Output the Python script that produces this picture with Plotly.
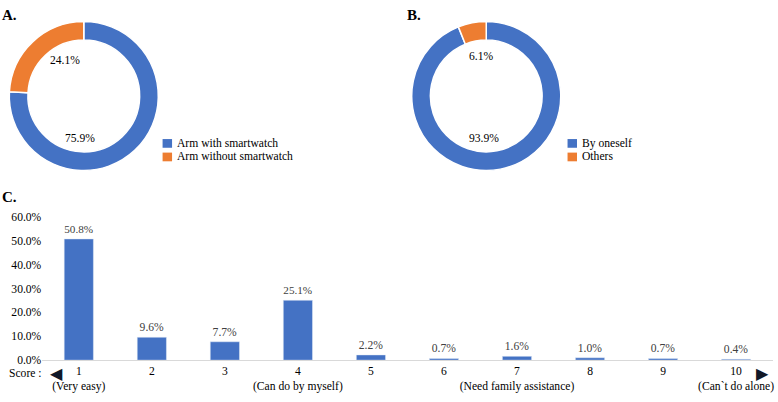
import plotly.graph_objects as go

# ---------------- data ----------------
pie_a_labels = ["Arm with smartwatch", "Arm without smartwatch"]
pie_a_values = [75.9, 24.1]
pie_b_labels = ["By oneself", "Others"]
pie_b_values = [93.9, 6.1]
scores = [1, 2, 3, 4, 5, 6, 7, 8, 9, 10]
score_pct = [50.8, 9.6, 7.7, 25.1, 2.2, 0.7, 1.6, 1.0, 0.7, 0.4]
score_desc = ["(Very easy)", "", "", "(Can do by myself)", "", "", "(Need family assistance)", "", "", "(Can`t do alone)"]
y_ticks = [0, 10, 20, 30, 40, 50, 60]

BLUE = "#4472C4"
ORANGE = "#ED7D31"
COLORS = [BLUE, ORANGE]
FONT = "Liberation Serif"
FS = 11.6
W, H = 778, 402


def px(x, y):
    return x / W, 1 - y / H


fig = go.Figure()

# Pie A
fig.add_trace(go.Pie(
    labels=pie_a_labels, values=pie_a_values, hole=0.75, sort=False,
    direction="clockwise", rotation=0, textinfo="none", showlegend=False,
    marker=dict(colors=COLORS, line=dict(color="white", width=1.5)),
    domain=dict(x=[7 / W, 161 / W], y=[1 - 170 / H, 1 - 16 / H]),
    hoverinfo="label+percent",
))
# Pie B
fig.add_trace(go.Pie(
    labels=pie_b_labels, values=pie_b_values, hole=0.75, sort=False,
    direction="clockwise", rotation=0, textinfo="none", showlegend=False,
    marker=dict(colors=COLORS, line=dict(color="white", width=1.5)),
    domain=dict(x=[410.5 / W, 564.5 / W], y=[1 - 170 / H, 1 - 16 / H]),
    hoverinfo="label+percent",
))

# Bar chart C
fig.add_trace(go.Bar(
    x=scores, y=score_pct, marker_color=BLUE, showlegend=False,
    text=[f"{v:.1f}%" for v in score_pct], textposition="outside",
    textfont=dict(family=FONT, size=FS, color="#404040"), cliponaxis=False,
))

ticktext = [f"{s}<br>{d}" if d else f"{s}" for s, d in zip(scores, score_desc)]

annotations = []
shapes = []
# panel labels
for txt, (x, y) in [("A.", (0, 9)), ("B.", (406, 9)), ("C.", (0, 197))]:
    ax, ay = px(x, y)
    annotations.append(dict(text=f"<b>{txt}</b>", x=ax, y=ay, xref="paper", yref="paper",
                            xanchor="left", yanchor="middle", showarrow=False,
                            font=dict(family=FONT, size=15, color="black")))
# pie percentage labels
pie_label_pos = [
    (pie_a_values[1], (65, 56)), (pie_a_values[0], (80, 137)),
    (pie_b_values[1], (482, 52)), (pie_b_values[0], (485, 137)),
]
for v, (x, y) in pie_label_pos:
    ax, ay = px(x, y)
    annotations.append(dict(text=f"{v:.1f}%", x=ax, y=ay, xref="paper", yref="paper",
                            xanchor="center", yanchor="middle", showarrow=False,
                            font=dict(family=FONT, size=FS, color="black")))
# legends (drawn beside each donut)
for labels, lx in [(pie_a_labels, 163), (pie_b_labels, 569)]:
    for i, lab in enumerate(labels):
        cy = 142 + 14 * i
        shapes.append(dict(type="rect", xref="paper", yref="paper",
                           x0=lx / W, x1=(lx + 9.5) / W, y0=1 - (cy + 4.5) / H, y1=1 - (cy - 4.5) / H,
                           fillcolor=COLORS[i], line=dict(width=0)))
        ax, ay = px(lx + 12, cy)
        annotations.append(dict(text=lab, x=ax, y=ay, xref="paper", yref="paper",
                                xanchor="left", yanchor="middle", showarrow=False,
                                font=dict(family=FONT, size=FS, color="black")))
# score label & arrows
ax, ay = px(7, 380)
annotations.append(dict(text="Score :", x=ax, y=ay, xref="paper", yref="paper",
                        xanchor="left", yanchor="middle", showarrow=False,
                        font=dict(family=FONT, size=FS, color="black")))
for txt, x in [("◀", 57), ("▶", 764)]:
    ax, ay = px(x, 380)
    annotations.append(dict(text=txt, x=ax, y=ay, xref="paper", yref="paper",
                            xanchor="center", yanchor="middle", showarrow=False,
                            font=dict(family="DejaVu Sans", size=16, color="#111827")))

fig.update_layout(
    width=W, height=H, margin=dict(l=0, r=0, t=0, b=0),
    paper_bgcolor="white", plot_bgcolor="white",
    font=dict(family=FONT, size=FS, color="black"),
    bargap=0.6,
    showlegend=False,
    xaxis=dict(domain=[42.4 / W, 774.6 / W], range=[0.5, 10.5], tickvals=scores, ticktext=ticktext,
               showline=True, linecolor="#d9d9d9", linewidth=1, showgrid=False, zeroline=False,
               ticks="", tickfont=dict(family=FONT, size=FS, color="black"), fixedrange=True,
               ticklabeloverflow="allow"),
    yaxis=dict(domain=[36 / H, 184 / H], range=[0, 60], tickvals=y_ticks,
               ticktext=[f"{t:.1f}%" for t in y_ticks], showgrid=False, zeroline=False,
               showline=False, ticks="", tickfont=dict(family=FONT, size=FS, color="black"),
               fixedrange=True),
    annotations=annotations,
    shapes=shapes,
)

fig.write_html("out.html", config={"displayModeBar": False},
               post_script="document.body.style.margin='0';document.body.style.overflow='hidden';")
